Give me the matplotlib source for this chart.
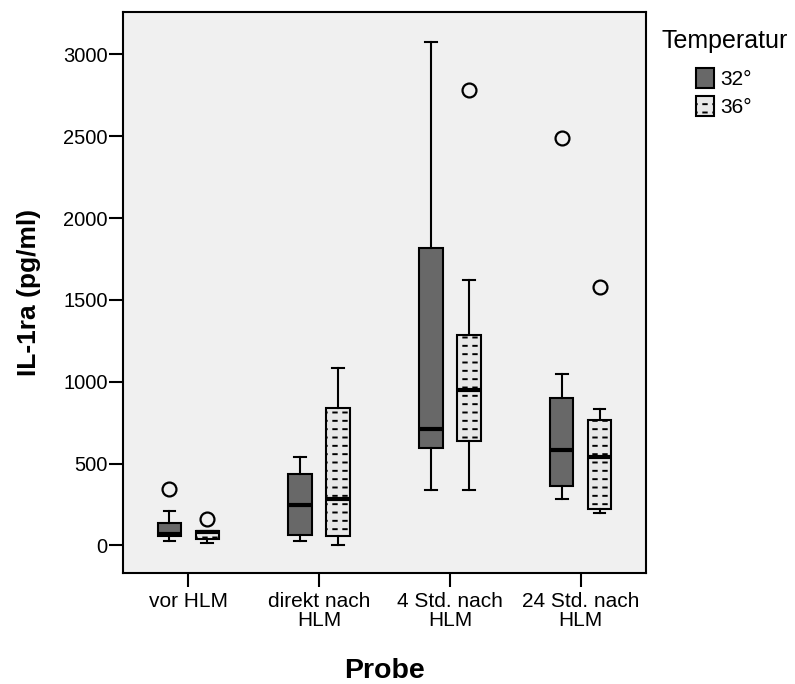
import matplotlib
matplotlib.use("Agg")
import matplotlib.pyplot as plt
import matplotlib.hatch as mhatch
from matplotlib.path import Path
from matplotlib.patches import Patch

plt.rcParams['font.family'] = ['Liberation Sans', 'DejaVu Sans']
plt.rcParams['hatch.linewidth'] = 1.4
plt.rcParams['hatch.color'] = 'black'

groups = ["vor HLM", "direkt nach\nHLM", "4 Std. nach\nHLM", "24 Std. nach\nHLM"]
series = ["32°", "36°"]

# box statistics (pg/ml)
whislo_32 = [26, 26, 337, 285]
q1_32 = [61, 66, 595, 361]
med_32 = [72, 245, 711, 581]
q3_32 = [137, 436, 1818, 898]
whishi_32 = [213, 540, 3073, 1046]
fliers_32 = [[343], [], [], [2489]]

whislo_36 = [17, 4, 337, 200]
q1_36 = [41, 59, 638, 225]
med_36 = [80, 284, 947, 539]
q3_36 = [88, 842, 1285, 767]
whishi_36 = [90, 1084, 1624, 834]
fliers_36 = [[160], [], [2785], [1581]]

yticks = [0, 500, 1000, 1500, 2000, 2500, 3000]


# SPSS style fill: small horizontal dashes instead of the round '.' dots
class DashHatch(mhatch.HatchPatternBase):
    def __init__(self, hatch, density):
        self.rows = hatch.count('.') * density
        self.cols = (5 * self.rows) // 6
        self.num_vertices = 2 * self.rows * self.cols

    def set_vertices_and_codes(self, vertices, codes):
        k = 0
        for r in range(self.rows):
            y = (r + 0.5) / self.rows
            for c in range(self.cols):
                x = (c + 0.5) / self.cols
                vertices[k] = (x - 0.017, y)
                vertices[k + 1] = (x + 0.017, y)
                codes[k] = Path.MOVETO
                codes[k + 1] = Path.LINETO
                k += 2


mhatch._hatch_types = [DashHatch if t is mhatch.SmallFilledCircles else t
                       for t in mhatch._hatch_types]


def make_stats(lo, q1, med, q3, hi, fl):
    return [dict(whislo=a, q1=b, med=c, q3=d, whishi=e, fliers=f)
            for a, b, c, d, e, f in zip(lo, q1, med, q3, hi, fl)]


fig = plt.figure(figsize=(7.95, 6.84), dpi=100)
ax = fig.add_axes([123 / 795, 1 - 573 / 684, (646 - 123) / 795, (573 - 12) / 684])
ax.set_facecolor('#f0f0f0')

offset = 0.145
width = 0.18
lw = 1.5
styles = [('#686868', None), ('#e8e8e8', '..')]
all_stats = [make_stats(whislo_32, q1_32, med_32, q3_32, whishi_32, fliers_32),
             make_stats(whislo_36, q1_36, med_36, q3_36, whishi_36, fliers_36)]

for k, stats in enumerate(all_stats):
    pos = [i + (k - 0.5) * 2 * offset for i in range(len(groups))]
    res = ax.bxp(stats, positions=pos, widths=width, patch_artist=True,
                 capwidths=width / 2, manage_ticks=False,
                 boxprops=dict(linewidth=lw, edgecolor='black'),
                 whiskerprops=dict(linewidth=lw, color='black'),
                 capprops=dict(linewidth=lw, color='black'),
                 medianprops=dict(linewidth=3, color='black'),
                 flierprops=dict(marker='o', markersize=10, markerfacecolor='none',
                                 markeredgecolor='black', markeredgewidth=1.6))
    for b in res['boxes']:
        b.set_facecolor(styles[k][0])
        if styles[k][1]:
            b.set_hatch(styles[k][1])

ax.set_xlim(-0.5, 3.5)
ax.set_ylim(-168, 3259)
ax.set_xticks(range(len(groups)))
ax.set_xticklabels(groups, fontsize=15, linespacing=1.0)
ax.set_yticks(yticks)
ax.set_yticklabels([str(v) for v in yticks], fontsize=14.5)
ax.tick_params(axis='both', direction='out', length=10, width=1.5, pad=1)
ax.tick_params(axis='x', pad=4)
for s in ax.spines.values():
    s.set_linewidth(1.5)

ax.set_xlabel("Probe", fontsize=20.5, fontweight='bold', labelpad=20)
ax.set_ylabel("IL-1ra (pg/ml)", fontsize=19, fontweight='bold', labelpad=16)

fig.text(662 / 795, 1 - 29 / 684, "Temperatur", fontsize=18, va='top', ha='left')
handles = [Patch(facecolor=styles[k][0], edgecolor='black', linewidth=1.5,
                 hatch=styles[k][1], label=series[k]) for k in range(2)]
fig.legend(handles=handles, loc='upper left', bbox_to_anchor=(696 / 795, 1 - 68 / 684),
           frameon=False, fontsize=15, handlelength=0.85, handleheight=1.1,
           handletextpad=0.3, labelspacing=0.35, borderaxespad=0, borderpad=0)

fig.savefig("out.png", dpi=100)
